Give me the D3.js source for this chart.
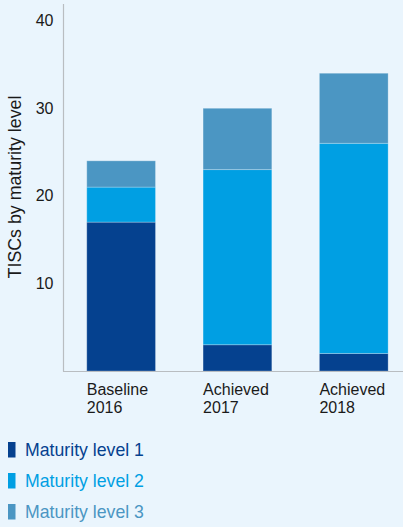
<!DOCTYPE html>
<html>
<head>
<meta charset="utf-8">
<script src="https://cdn.jsdelivr.net/npm/d3@7"></script>
<style>
  html, body { margin: 0; padding: 0; background: #eaf5fd; }
  svg { display: block; font-family: "Liberation Sans", Arial, sans-serif; }
</style>
</head>
<body>
<svg id="chart" width="403" height="527"></svg>
<script>
// Stacked bar data: TISCs by maturity level
const categories = [["Baseline", "2016"], ["Achieved", "2017"], ["Achieved", "2018"]];
const seriesNames = ["Maturity level 1", "Maturity level 2", "Maturity level 3"];
const level1 = [17, 3, 2];
const level2 = [4, 20, 24];
const level3 = [3, 7, 8];
const yTicks = [10, 20, 30, 40];
const colors = ["#05418f", "#009fe3", "#4b96c3"];

const W = 403, H = 527;
const svg = d3.select("#chart");

const rows = categories.map((c, i) => ({
  key: c.join(" "),
  lines: c,
  l1: level1[i], l2: level2[i], l3: level3[i]
}));
const keys = ["l1", "l2", "l3"];
const stacked = d3.stack().keys(keys)(rows);

const x = d3.scaleBand()
  .domain(rows.map(d => d.key))
  .range([63.5, 411.4])
  .paddingInner(0.409)
  .paddingOuter(0.2);

const y = d3.scaleLinear().domain([0, 40]).range([371, 20.7]);

// Axis lines
svg.append("line")
  .attr("x1", 63.5).attr("x2", 63.5)
  .attr("y1", 4).attr("y2", 371.5)
  .attr("stroke", "#b9bdc1").attr("stroke-width", 1.2);

// Y tick labels
const yAxis = d3.axisLeft(y).tickValues(yTicks).tickSize(0).tickPadding(10);
const yg = svg.append("g").attr("transform", "translate(63.5,0)").call(yAxis);
yg.select(".domain").remove();
yg.selectAll("text")
  .attr("font-size", 16)
  .attr("fill", "#1a1a1a")
  .attr("font-family", "Liberation Sans, Arial, sans-serif");

// Y axis title
svg.append("text")
  .attr("transform", "translate(21,187) rotate(-90)")
  .attr("text-anchor", "middle")
  .attr("font-size", 17.8)
  .attr("fill", "#1a1a1a")
  .text("TISCs by maturity level");

// Bars
svg.append("g").selectAll("g")
  .data(stacked)
  .join("g")
  .attr("fill", (d, i) => colors[i])
  .selectAll("rect")
  .data(d => d)
  .join("rect")
  .attr("x", d => x(d.data.key))
  .attr("width", x.bandwidth())
  .attr("y", d => y(d[1]))
  .attr("height", d => y(d[0]) - y(d[1]))
  .attr("stroke", "rgba(255,255,255,0.25)")
  .attr("stroke-width", 1);

// Bottom axis line
svg.append("line")
  .attr("x1", 63).attr("x2", W)
  .attr("y1", 371.5).attr("y2", 371.5)
  .attr("stroke", "#b9bdc1").attr("stroke-width", 1.2);

// Category labels (two lines, left aligned with bars)
const cat = svg.append("g").selectAll("text")
  .data(rows)
  .join("text")
  .attr("x", d => x(d.key))
  .attr("y", 395)
  .attr("font-size", 16)
  .attr("fill", "#1a1a1a");
cat.selectAll("tspan")
  .data(d => d.lines)
  .join("tspan")
  .attr("x", function () { return d3.select(this.parentNode).attr("x"); })
  .attr("dy", (d, i) => i === 0 ? 0 : 17.8)
  .text(d => d);

// Legend
const leg = svg.append("g").selectAll("g")
  .data(seriesNames)
  .join("g")
  .attr("transform", (d, i) => `translate(0,${i * 31})`);
leg.append("rect")
  .attr("x", 8).attr("y", 442)
  .attr("width", 7.5).attr("height", 15.5)
  .attr("fill", (d, i) => colors[i]);
leg.append("text")
  .attr("x", 25).attr("y", 456)
  .attr("font-size", 17.7)
  .attr("fill", (d, i) => colors[i])
  .text(d => d);
</script>
</body>
</html>
